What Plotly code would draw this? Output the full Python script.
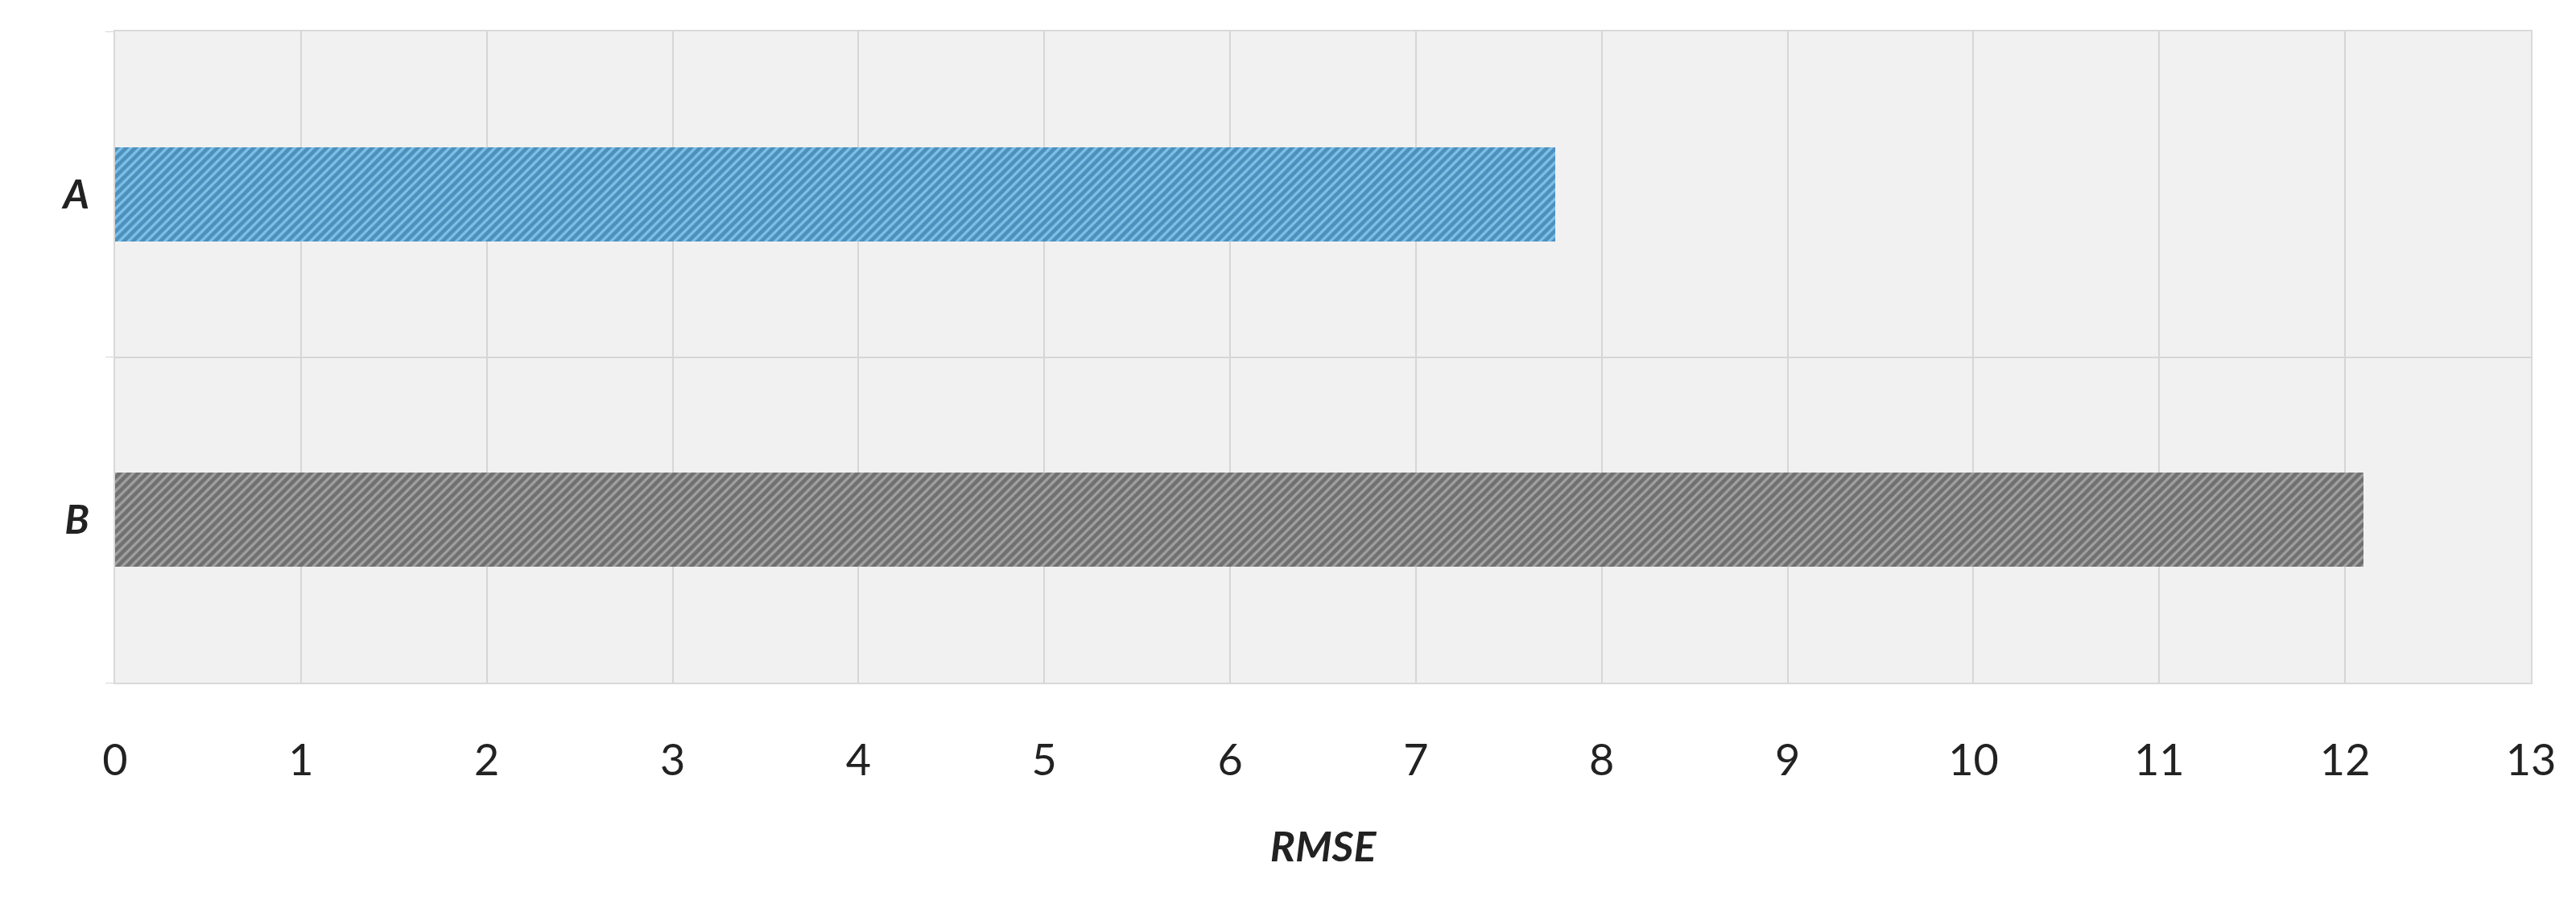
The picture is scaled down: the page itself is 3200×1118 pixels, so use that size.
import plotly.graph_objects as go

categories = ["A", "B"]
rmse = [7.75, 12.1]
fg_colors = ["#1a5f96", "#3f3f3f"]
bg_colors = ["#7fc0e6", "#a0a0a0"]
x_ticks = list(range(0, 14))

ypos = list(range(len(categories)))

fig = go.Figure()
for i, (c, v) in enumerate(zip(categories, rmse)):
    fig.add_trace(go.Bar(
        x=[v], y=[ypos[i]], orientation="h", width=0.29,
        marker=dict(color=bg_colors[i], line=dict(width=0),
                    pattern=dict(shape="/", fgcolor=fg_colors[i], bgcolor=bg_colors[i],
                                 size=8, solidity=0.6)),
        showlegend=False, name=c))

fig.update_layout(
    width=3200, height=1118,
    margin=dict(l=135, r=64, t=31, b=278),
    paper_bgcolor="white", plot_bgcolor="#f1f1f1",
    font=dict(family="Lato, Open Sans, sans-serif", color="#222"),
    bargap=0,
)
fig.update_xaxes(
    range=[0, 13], tickvals=x_ticks, showgrid=True, gridcolor="#d6d6d6", gridwidth=2,
    zeroline=False, tickfont=dict(size=54), ticks="", ticklabelstandoff=48,
    title=dict(text="<b><i>RMSE</i></b>", font=dict(size=52), standoff=60),
    showline=True, linecolor="#d9d9d9", linewidth=2, mirror=True,
)
fig.update_yaxes(
    range=[1.5, -0.5], tickvals=ypos, ticktext=[f"<b><i>{c}</i></b>" for c in categories],
    showgrid=False, zeroline=False, tickfont=dict(size=50), ticks="", ticklabelstandoff=20,
    minor=dict(tickvals=[-0.5, 0.5, 1.5], showgrid=True, gridcolor="#d6d6d6", gridwidth=2,
               ticks="outside", ticklen=10, tickcolor="#d6d6d6"),
    showline=True, linecolor="#d9d9d9", linewidth=2, mirror=True,
)
fig.write_html("out.html")
